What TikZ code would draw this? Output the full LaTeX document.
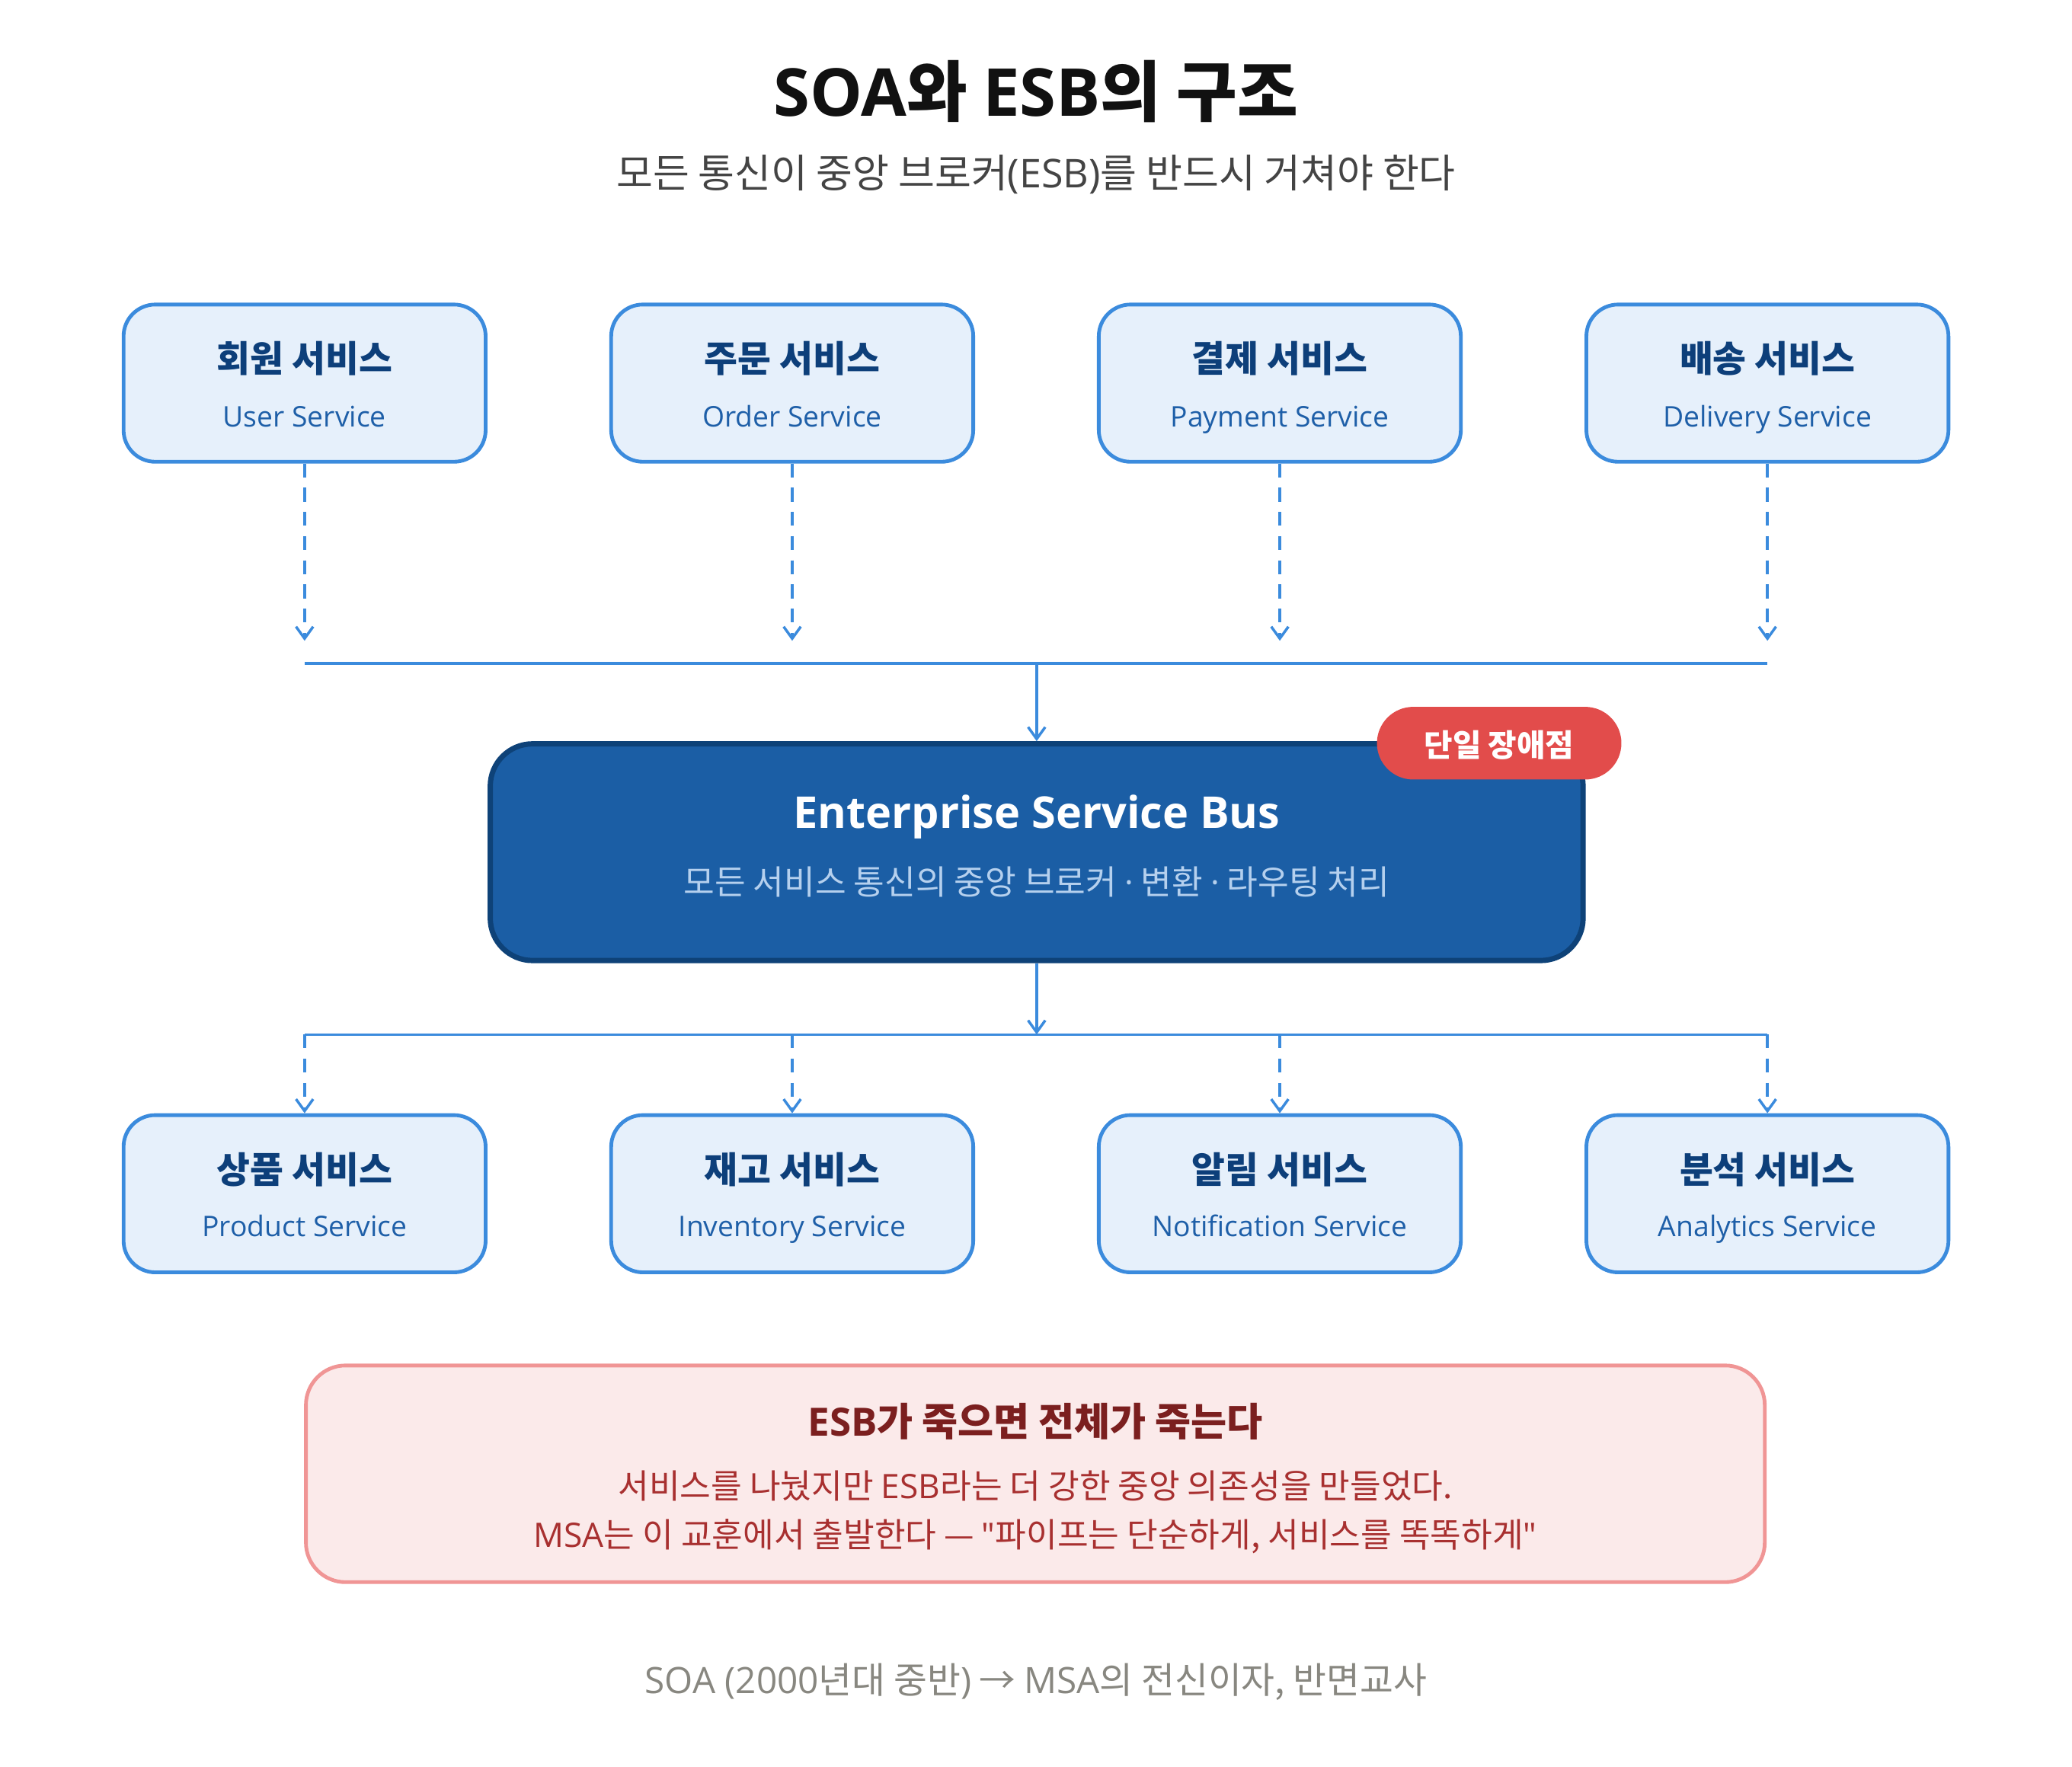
\documentclass[tikz,border=0pt]{standalone}
\usepackage{fontspec}
\setmainfont{Noto Sans CJK KR}
\newfontfamily\lat{Open Sans}
\usetikzlibrary{arrows.meta}
\definecolor{svcF}{HTML}{E6F0FB}
\definecolor{svcB}{HTML}{3B8BDD}
\definecolor{svcT}{HTML}{0D3F7A}
\definecolor{svcS}{HTML}{1E5FA8}
\definecolor{esbF}{HTML}{1B5EA5}
\definecolor{esbB}{HTML}{0E4278}
\definecolor{esbS}{HTML}{B5D0EE}
\definecolor{badgeF}{HTML}{E24C4B}
\definecolor{warnF}{HTML}{FBEAEA}
\definecolor{warnB}{HTML}{F09595}
\definecolor{warnT}{HTML}{7B1F1F}
\definecolor{warnS}{HTML}{A83030}
\definecolor{footC}{HTML}{888780}
\definecolor{titleC}{HTML}{111111}
\definecolor{subC}{HTML}{444444}
\begin{document}
\begin{tikzpicture}[x=1pt,y=-1pt,
  svc/.style={draw=svcB, fill=svcF, line width=2.8pt, rounded corners=24pt,
    minimum width=274pt, minimum height=119pt, inner sep=0pt},
  txt/.style={anchor=base, inner sep=0pt},
  svctitle/.style={txt, text=svcT, font=\fontsize{27.5}{32}\selectfont\bfseries},
  svcsub/.style={txt, text=svcS, font=\fontsize{21.5}{26}\selectfont\lat},
  conn/.style={draw=svcB, line width=2pt},
  tip/.style={-{Straight Barb[length=9pt,width=13pt,line width=2pt]}},
  dashconn/.style={conn, tip, dash pattern=on 10.5pt off 7.8pt}
]
\useasboundingbox (0,0) rectangle (1568,1337);
\fill[white] (0,0) rectangle (1568,1337);

% title
\node[txt, text=titleC, font=\fontsize{50}{60}\selectfont\bfseries] (title) at (784,88)
  {{\lat SOA}와 {\lat ESB}의 구조};
\node[txt, text=subC, font=\fontsize{30}{36}\selectfont] (subtitle) at (784,142)
  {모든 통신이 중앙 브로커{\lat (ESB)}를 반드시 거쳐야 한다};

% top services
\foreach \n/\x/\k/\e in {u1/230.5/회원 서비스/User Service,
                         u2/599.5/주문 서비스/Order Service,
                         u3/968.5/결제 서비스/Payment Service,
                         u4/1337.5/배송 서비스/Delivery Service}{
  \node[svc] (\n) at (\x,290) {};
  \node[svctitle] (\n t) at (\x,281.5) {\k};
  \node[svcsub] (\n s) at (\x,323) {\e};
}
% bottom services
\foreach \n/\x/\k/\e in {d1/230.5/상품 서비스/Product Service,
                         d2/599.5/재고 서비스/Inventory Service,
                         d3/968.5/알림 서비스/Notification Service,
                         d4/1337.5/분석 서비스/Analytics Service}{
  \node[svc] (\n) at (\x,903.5) {};
  \node[svctitle] (\n t) at (\x,895.5) {\k};
  \node[svcsub] (\n s) at (\x,936) {\e};
}

% ESB
\node[draw=esbB, fill=esbF, line width=4pt, rounded corners=32pt,
      minimum width=827pt, minimum height=164pt, inner sep=0pt] (esb) at (784.5,645) {};
\node[txt, text=white, font=\fontsize{33.2}{40}\selectfont\lat\bfseries] (esbt) at (784.5,627)
  {Enterprise Service Bus};
\node[txt, text=esbS, font=\fontsize{25.5}{30}\selectfont] (esbs) at (784.5,677)
  {모든 서비스 통신의 중앙 브로커 {\lat ·} 변환 {\lat ·} 라우팅 처리};

% badge
\node[fill=badgeF, rounded corners=27.5pt, minimum width=185pt, minimum height=55pt,
      inner sep=0pt] (badge) at (1134.5,562.5) {};
\node[txt, text=white, font=\fontsize{23.5}{28}\selectfont\bfseries] (badget) at (1134.5,572.5)
  {단일 장애점};

% connector coordinates
\coordinate (hL) at (230.5,502);
\coordinate (hR) at (1337.5,502);
\coordinate (hC) at (784.5,502);
\coordinate (bL) at (230.5,783);
\coordinate (bR) at (1337.5,783);
\coordinate (bC) at (784.5,783);
\foreach \n/\x in {u1/230.5,u2/599.5,u3/968.5,u4/1337.5}{
  \coordinate (\n a) at (\x,485);
  \draw[dashconn] (\n) -- (\n a);
}
\draw[conn, line cap=butt] (hL) -- (hR);
\draw[conn, tip] (hC) -- (esb.north);
\draw[conn, tip] (esb.south) -- (bC);
\draw[conn] (bL) -- (bR);
\foreach \n/\x in {d1/230.5,d2/599.5,d3/968.5,d4/1337.5}{
  \coordinate (\n a) at (\x,783);
  \draw[dashconn] (\n a) -- (\n.north);
}

% warning box
\node[draw=warnB, fill=warnF, line width=2.8pt, rounded corners=30pt,
      minimum width=1104pt, minimum height=164pt, inner sep=0pt] (warn) at (783.5,1115.5) {};
\node[txt, text=warnT, font=\fontsize{29.5}{34}\selectfont\bfseries] (warnt) at (783.5,1087)
  {{\lat ESB}가 죽으면 전체가 죽는다};
\node[txt, text=warnS, font=\fontsize{25.5}{30}\selectfont] (warn1) at (783.5,1134)
  {서비스를 나눴지만 {\lat ESB}라는 더 강한 중앙 의존성을 만들었다.};
\node[txt, text=warnS, font=\fontsize{25.5}{30}\selectfont] (warn2) at (783.5,1171)
  {{\lat MSA}는 이 교훈에서 출발한다 — {\lat "}파이프는 단순하게, 서비스를 똑똑하게{\lat "}};

% footer
\node[txt, text=footC, font=\fontsize{27.5}{32}\selectfont] (foot) at (784,1282)
  {{\lat SOA (2000}년대 중반{\lat )} → {\lat MSA}의 전신이자, 반면교사};
\end{tikzpicture}
\end{document}
